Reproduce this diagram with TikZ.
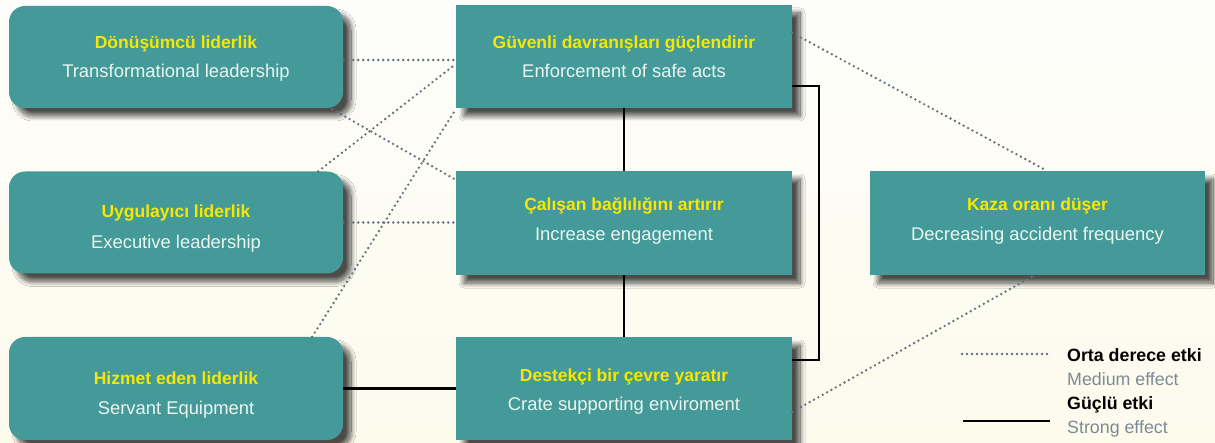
\documentclass[tikz,border=0pt]{standalone}
\usepackage{fontspec}
\setmainfont{Liberation Sans}
\usetikzlibrary{calc,shadows.blur}
\definecolor{teal1}{RGB}{67,154,153}
\definecolor{ttl}{RGB}{246,232,0}
\definecolor{subw}{RGB}{236,245,240}
\definecolor{dotc}{RGB}{98,112,126}
\definecolor{leggray}{RGB}{125,138,148}
\definecolor{bgtop}{RGB}{253,253,251}
\definecolor{bgbot}{RGB}{253,251,236}
\tikzset{
  boxbase/.style={fill=teal1, draw=none, inner sep=0pt,
    blur shadow={shadow xshift=8pt, shadow yshift=-8pt, shadow blur radius=5pt, shadow blur steps=16, shadow opacity=70}},
  leftbox/.style={boxbase, rounded corners=16pt, minimum width=334pt, minimum height=102pt},
  midbox/.style={boxbase, minimum width=336pt, minimum height=103pt},
  ttltext/.style={anchor=base, inner sep=0pt, text=ttl, font=\fontsize{17.5}{20}\selectfont\bfseries},
  subtext/.style={anchor=base, inner sep=0pt, text=subw, font=\fontsize{18.4}{22}\selectfont},
  medline/.style={draw=dotc, line width=2.6pt, line cap=round, dash pattern=on 0pt off 5pt},
  strongline/.style={draw=black, line width=2.5pt},
  legbold/.style={anchor=base west, inner sep=0pt, text=black, font=\fontsize{17.8}{20}\selectfont\bfseries},
  legsub/.style={anchor=base west, inner sep=0pt, text=leggray, font=\fontsize{17.8}{20}\selectfont},
}
\begin{document}
\begin{tikzpicture}[x=1pt,y=-1pt]
\useasboundingbox (0,0) rectangle (1215,443);
\fill[top color=bgtop, bottom color=bgbot] (0,0) rectangle (1215,443);

% boxes
\node[leftbox] (b1) at (176,57) {};
\node[leftbox] (b2) at (176,222.5) {};
\node[leftbox, minimum height=103pt] (b3) at (176,388.5) {};
\node[midbox] (bA) at (624,56.5) {};
\node[midbox, minimum height=104pt] (bB) at (624,223) {};
\node[midbox] (bC) at (624,388.5) {};
\node[midbox, minimum width=335pt, minimum height=104pt] (bR) at (1037.5,223) {};

% texts
\node[ttltext] (t1) at (176,48.5) {Dönüşümcü liderlik};
\node[subtext] (s1) at (176,77.5) {Transformational leadership};
\node[ttltext] (t2) at (176,217.5) {Uygulayıcı liderlik};
\node[subtext] (s2) at (176,248.5) {Executive leadership};
\node[ttltext] (t3) at (176,384.5) {Hizmet eden liderlik};
\node[subtext] (s3) at (176,414.5) {Servant Equipment};
\node[ttltext] (tA) at (624,48.5) {Güvenli davranışları güçlendirir};
\node[subtext] (sA) at (624,77.5) {Enforcement of safe acts};
\node[ttltext] (tB) at (624,210.5) {Çalışan bağlılığını artırır};
\node[subtext] (sB) at (624,240.5) {Increase engagement};
\node[ttltext] (tC) at (624,381.5) {Destekçi bir çevre yaratır};
\node[subtext] (sC) at (624,410.5) {Crate supporting enviroment};
\node[ttltext] (tR) at (1037.5,210.5) {Kaza oranı düşer};
\node[subtext] (sR) at (1037.5,240.5) {Decreasing accident frequency};

% medium effect connectors
\draw[medline] ($(b1.east)+(0,3)$) -- ($(bA.west)+(0,3.5)$);
\draw[medline] ($(b1.south east)+(-11,1)$) -- ($(bB.north west)+(0,9)$);
\draw[medline] ($(b2.north east)+(-25,0)$) -- ($(bA.west)+(0,7.5)$);
\draw[medline] (b2.east) -- (b2.east -| bB.west);
\draw[medline] ($(b3.north east)+(-31,0)$) -- ($(bA.south west)+(0,1)$);
\draw[medline] ($(bA.north east)+(0,28)$) -- ($(bR.north)+(9.5,0)$);
\draw[medline] ($(bC.east)+(0,23.5)$) -- ($(bR.south)+(-3,0)$);

% strong effect connectors
\draw[strongline] (bA.south) -- (bB.north);
\draw[strongline] (bB.south) -- (bC.north);
\draw[strongline] ($(bA.east)+(0,29.5)$) -- ++(27,0) |- ($(bC.east)+(0,-28.5)$);
\draw[strongline] (b3.east) -- (bC.west);

% legend
\coordinate (lm1) at (962,354);
\coordinate (lm2) at (1050,354);
\coordinate (ls1) at (963,421);
\coordinate (ls2) at (1050,421);
\draw[medline] (lm1) -- (lm2);
\draw[strongline] (ls1) -- (ls2);
\node[legbold] (l1) at (1067,361.5) {Orta derece etki};
\node[legsub] (l2) at (1067,385.5) {Medium effect};
\node[legbold] (l3) at (1067,409.5) {Güçlü etki};
\node[legsub] (l4) at (1067,433.5) {Strong effect};
\end{tikzpicture}
\end{document}
